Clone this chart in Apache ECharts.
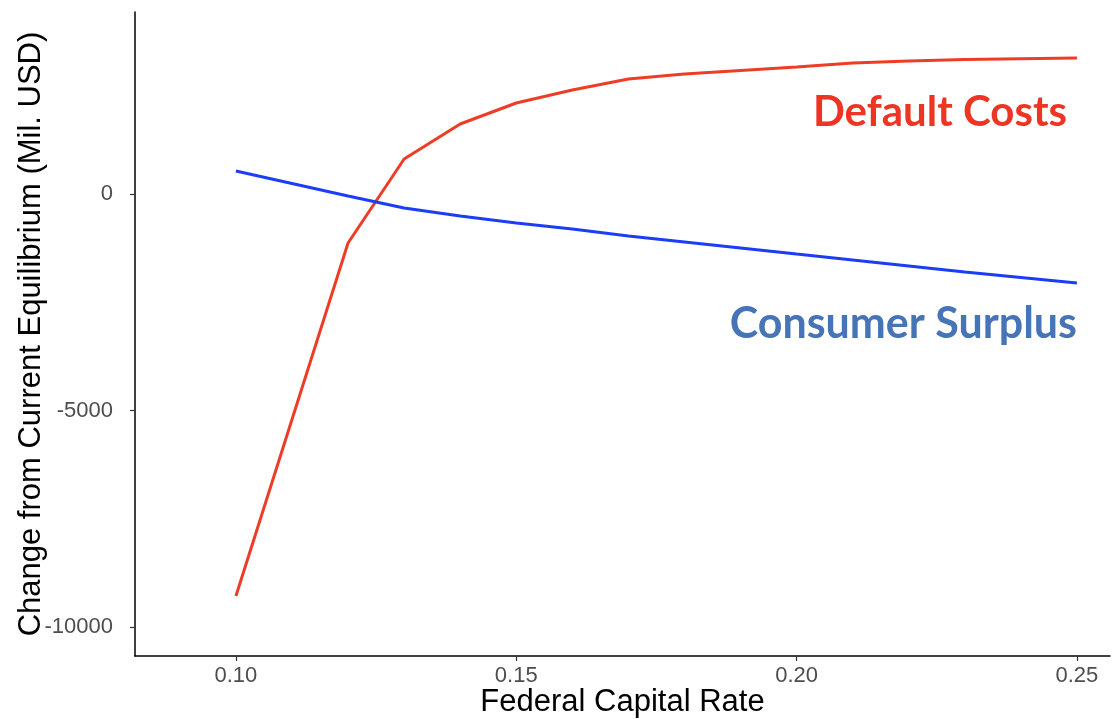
<!DOCTYPE html>
<html>
<head>
<meta charset="utf-8">
<script src="https://cdn.jsdelivr.net/npm/echarts@6/dist/echarts.min.js"></script>
<style>
html,body{margin:0;padding:0;background:#fff;}
#chart{width:1113px;height:719px;}
</style>
</head>
<body>
<div id="chart"></div>
<script>
const rates = [0.10, 0.12, 0.13, 0.14, 0.15, 0.16, 0.17, 0.18, 0.19, 0.20, 0.21, 0.22, 0.23, 0.24, 0.25];
const defaultCosts = [-9284, -1132, 808, 1617, 2101, 2402, 2656, 2771, 2852, 2933, 3025, 3071, 3106, 3124, 3140];
const consumerSurplus = [531, -46, -323, -508, -670, -808, -970, -1108, -1247, -1386, -1524, -1663, -1801, -1928, -2055];
const xTicks = [0.10, 0.15, 0.20, 0.25];
const yTicks = [-10000, -5000, 0];
const xTickLabels = ['0.10', '0.15', '0.20', '0.25'];
const yTickLabels = ['-10000', '-5000', '0'];

const chart = echarts.init(document.getElementById('chart'));
const axisFont = 'Liberation Sans, Arial, sans-serif';
chart.setOption({
  animation: false,
  grid: {left: 135, right: 3, top: 12, bottom: 63, containLabel: false, outerBoundsMode: 'none'},
  xAxis: {
    type: 'value',
    min: 0.082, max: 0.2559,
    name: 'Federal Capital Rate',
    nameLocation: 'middle',
    nameGap: 31,
    nameMoveOverlap: false,
    nameTextStyle: {color: '#000', fontSize: 31, fontFamily: axisFont},
    splitLine: {show: false},
    axisLine: {show: true, onZero: false, lineStyle: {color: '#000', width: 1.5}},
    axisTick: {show: true, length: 5, customValues: xTicks, lineStyle: {color: '#333', width: 1.2}},
    axisLabel: {
      customValues: xTicks, margin: 9,
      color: '#4D4D4D', fontSize: 22, fontFamily: axisFont,
      formatter: v => xTickLabels[xTicks.findIndex(t => Math.abs(t - v) < 1e-9)] ?? v.toFixed(2)
    }
  },
  yAxis: {
    type: 'value',
    min: -10670, max: 4203,
    name: 'Change from Current Equilibrium (Mil. USD)',
    nameLocation: 'middle',
    nameGap: 88,
    nameMoveOverlap: false,
    nameTextStyle: {color: '#000', fontSize: 31, fontFamily: axisFont},
    splitLine: {show: false},
    axisLine: {show: true, onZero: false, lineStyle: {color: '#000', width: 1.5}},
    axisTick: {show: true, length: 5, customValues: yTicks, lineStyle: {color: '#333', width: 1.2}},
    axisLabel: {
      customValues: yTicks, margin: 22, color: '#4D4D4D', fontSize: 22, fontFamily: axisFont,
      formatter: v => yTickLabels[yTicks.findIndex(t => Math.abs(t - v) < 1e-6)] ?? String(v)
    }
  },
  series: [
    {
      name: 'Default Costs', type: 'line', showSymbol: false,
      data: rates.map((r, i) => [r, defaultCosts[i]]),
      lineStyle: {color: '#EE3D26', width: 3},
      itemStyle: {color: '#EE3D26'}
    },
    {
      name: 'Consumer Surplus', type: 'line', showSymbol: false,
      data: rates.map((r, i) => [r, consumerSurplus[i]]),
      lineStyle: {color: '#1B3DF5', width: 3},
      itemStyle: {color: '#1B3DF5'}
    }
  ],
  graphic: [
    {type: 'text', right: 46, top: 91, style: {text: 'Default Costs', fill: '#EE3524', font: 'bold 42px Lato, "Open Sans", sans-serif'}},
    {type: 'text', right: 36, top: 303, style: {text: 'Consumer Surplus', fill: '#4674B6', font: 'bold 43px Lato, "Open Sans", sans-serif'}}
  ]
});
</script>
</body>
</html>
